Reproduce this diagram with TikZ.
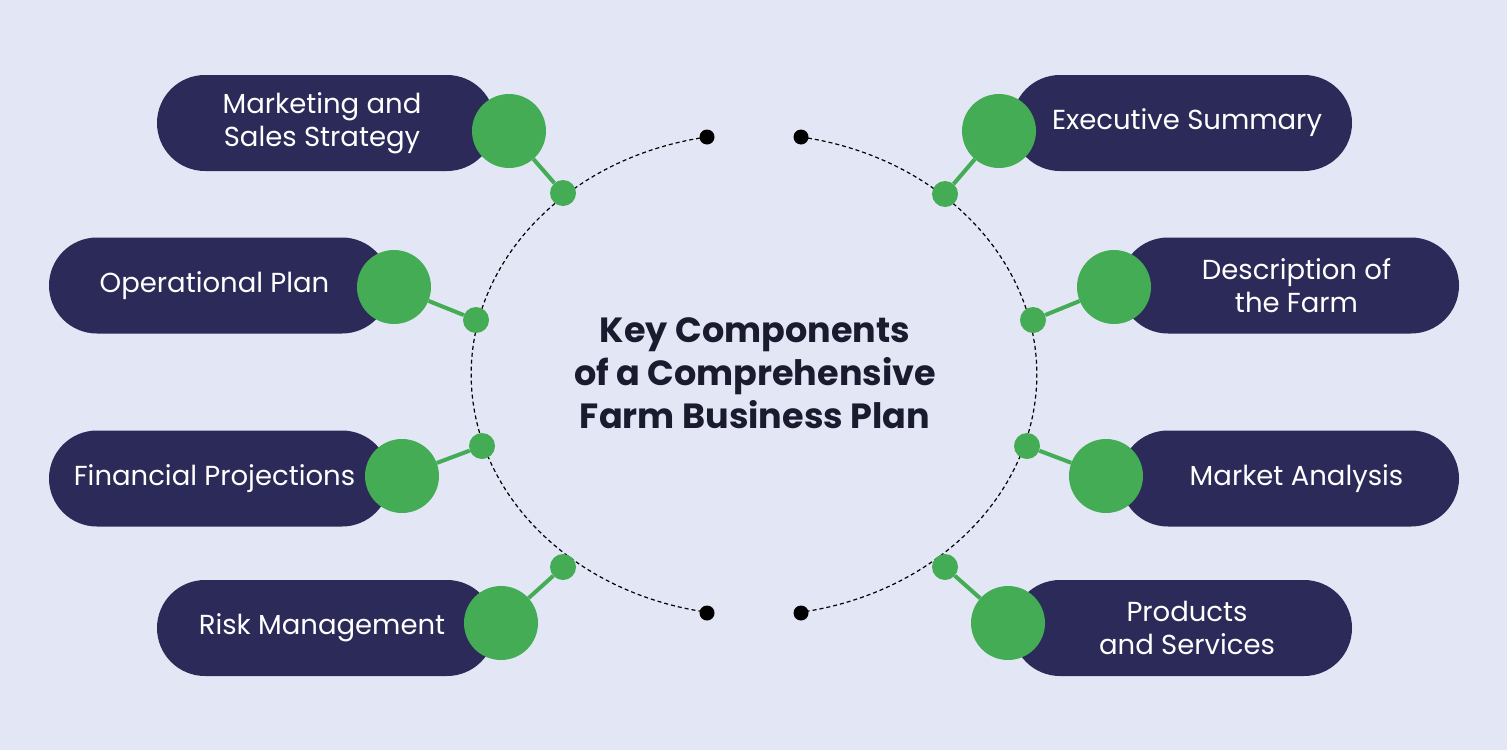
\documentclass[tikz,border=0pt]{standalone}
\usepackage{fontspec}
\setmainfont{Poppins}
\usetikzlibrary{positioning}

\definecolor{bgc}{HTML}{E3E7F5}
\definecolor{navy}{HTML}{2C2A58}
\definecolor{leaf}{HTML}{43AC55}
\definecolor{ink}{HTML}{1B1B2F}

\tikzset{
	pill/.style={fill=navy, rounded corners=48pt, minimum height=96pt, inner sep=0pt},
	caption/.style={text=white, align=center, inner sep=0pt, font=\fontsize{27.5}{33}\selectfont},
	bigdot/.style={circle, fill=leaf, minimum size=74pt, inner sep=0pt},
	smalldot/.style={circle, fill=leaf, minimum size=26pt, inner sep=0pt},
	enddot/.style={circle, fill=black, minimum size=15pt, inner sep=0pt},
	link/.style={leaf, line width=4pt},
	rim/.style={black, line width=1.2pt, dash pattern=on 4pt off 3pt}
}

\begin{document}
\begin{tikzpicture}[x=1pt, y=-1pt]
		\fill[bgc] (0,0) rectangle (1507,750);
		\useasboundingbox (0,0) rectangle (1507,750);
		
		% dashed ring
		\node[enddot] (tl) at (707,137) {};
		\node[enddot] (tr) at (801,137) {};
		\node[enddot] (bl) at (707,613) {};
		\node[enddot] (br) at (801,613) {};
		\draw[rim] (tl) arc[start angle=260.4, end angle=99.6, x radius=283, y radius=241];
		\draw[rim] (tr) arc[start angle=-80.4, end angle=80.4, x radius=283, y radius=241];
		
		\node[font=\fontsize{35}{43}\selectfont\bfseries, text=ink, align=center] (title) at (755,373)
			{Key Components\\of a Comprehensive\\Farm Business Plan};
		
		% left side
		\node[pill, minimum width=338pt, label={[caption, xshift=-4pt]center:Marketing and\\Sales Strategy}] (mkt) at (326,123) {};
		\node[pill, minimum width=341pt, label={[caption, xshift=-5pt]center:Operational Plan}] (ops) at (219.5,285.5) {};
		\node[pill, minimum width=341pt, label={[caption, xshift=-5pt]center:Financial Projections}] (fin) at (219.5,478.5) {};
		\node[pill, minimum width=338pt, label={[caption, xshift=-4pt]center:Risk Management}] (risk) at (326,628) {};
		
		\node[bigdot] (mktb) at (509,131) {};
		\node[bigdot] (opsb) at (394,287) {};
		\node[bigdot] (finb) at (402,476) {};
		\node[bigdot] (riskb) at (501,623) {};
		
		\node[smalldot] (mkts) at (563,193) {};
		\node[smalldot] (opss) at (476,320) {};
		\node[smalldot] (fins) at (482,446) {};
		\node[smalldot] (risks) at (563,567) {};
		
		% right side
		\node[pill, minimum width=340pt, label={[caption, xshift=5pt]center:Executive Summary}] (exe) at (1182,123) {};
		\node[pill, minimum width=339pt, label={[caption, xshift=7pt]center:Description of\\the Farm}] (farm) at (1289.5,285.5) {};
		\node[pill, minimum width=339pt, label={[caption, xshift=7pt]center:Market Analysis}] (ana) at (1289.5,478.5) {};
		\node[pill, minimum width=340pt, label={[caption, xshift=5pt]center:Products\\and Services}] (prod) at (1182,628) {};
		
		\node[bigdot] (exeb) at (999,131) {};
		\node[bigdot] (farmb) at (1114,287) {};
		\node[bigdot] (anab) at (1106,476) {};
		\node[bigdot] (prodb) at (1008,623) {};
		
		\node[smalldot] (exes) at (945,194) {};
		\node[smalldot] (farms) at (1033,320) {};
		\node[smalldot] (anas) at (1027,446) {};
		\node[smalldot] (prods) at (945,567) {};
		
		\draw[link] (mktb) -- (mkts);
		\draw[link] (opsb) -- (opss);
		\draw[link] (finb) -- (fins);
		\draw[link] (riskb) -- (risks);
		\draw[link] (exeb) -- (exes);
		\draw[link] (farmb) -- (farms);
		\draw[link] (anab) -- (anas);
		\draw[link] (prodb) -- (prods);
	\end{tikzpicture}
\end{document}
